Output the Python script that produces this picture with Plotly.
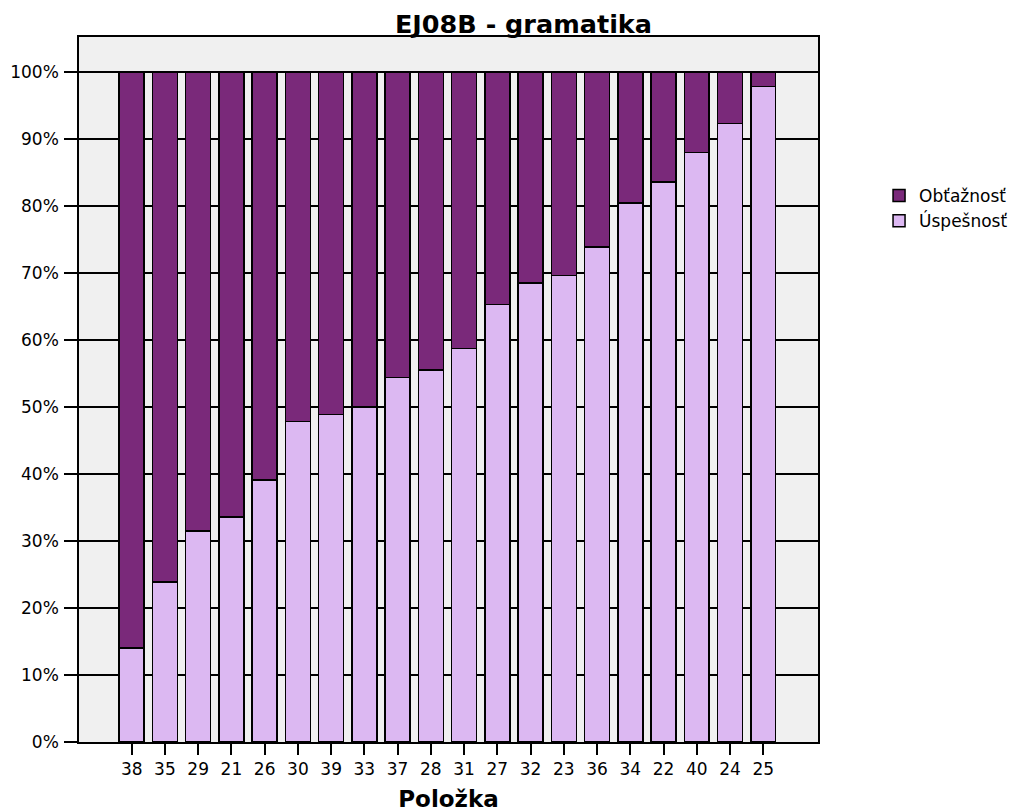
import plotly.graph_objects as go

polozky = ["38", "35", "29", "21", "26", "30", "39", "33", "37", "28",
           "31", "27", "32", "23", "36", "34", "22", "40", "24", "25"]
uspesnost = [14.0, 23.9, 31.5, 33.6, 39.1, 47.8, 48.9, 50.0, 54.4, 55.5,
             58.7, 65.3, 68.5, 69.6, 73.9, 80.4, 83.6, 88.0, 92.3, 97.8]
obtaznost = [86.0, 76.1, 68.5, 66.4, 60.9, 52.2, 51.1, 50.0, 45.6, 44.5,
             41.3, 34.7, 31.5, 30.4, 26.1, 19.6, 16.4, 12.0, 7.7, 2.2]

font_family = "DejaVu Sans"

fig = go.Figure()
fig.add_trace(go.Bar(
    x=polozky, y=uspesnost, name="Úspešnosť",
    marker=dict(color="#DCB8F2", line=dict(color="black", width=1.5)),
    width=0.75,
))
fig.add_trace(go.Bar(
    x=polozky, y=obtaznost, name="Obťažnosť",
    marker=dict(color="#7A297A", line=dict(color="black", width=1.5)),
    width=0.75,
))

fig.update_layout(
    width=1017, height=812,
    barmode="stack",
    paper_bgcolor="white",
    plot_bgcolor="#F0F0F0",
    margin=dict(l=79, r=199, t=37, b=70, autoexpand=False),
    font=dict(family=font_family, color="black", size=17),
    title=dict(
        text="<b>EJ08B - gramatika</b>",
        font=dict(size=25.5, family=font_family),
        x=523.5 / 1017, xanchor="center", xref="container",
        y=1 - 24 / 812, yanchor="middle", yref="container",
    ),
    legend=dict(
        x=1.0826, y=0.800, xanchor="left", yanchor="top",
        traceorder="reversed",
        font=dict(size=17, family=font_family),
        bgcolor="rgba(0,0,0,0)",
    ),
    xaxis=dict(
        type="category",
        range=[-1.585, 20.647],
        showline=True, mirror=True, linecolor="black", linewidth=1.5,
        ticks="outside", ticklen=11, tickcolor="black", tickwidth=2,
        showgrid=False,
        tickfont=dict(size=17),
        title=dict(text="<b>Položka</b>", font=dict(size=23), standoff=15),
    ),
    yaxis=dict(
        range=[0, 105.2],
        dtick=10, ticksuffix="%",
        showline=True, mirror=True, linecolor="black", linewidth=1.5,
        ticks="outside", ticklen=13, tickcolor="black", tickwidth=2,
        showgrid=True, gridcolor="black", gridwidth=1.5,
        zeroline=False,
        tickfont=dict(size=17),
        ticklabelstandoff=2,
    ),
)

fig.write_html(
    "out.html",
    config={"displayModeBar": False},
    post_script="document.body.style.margin='0';document.body.style.overflow='hidden';",
)
